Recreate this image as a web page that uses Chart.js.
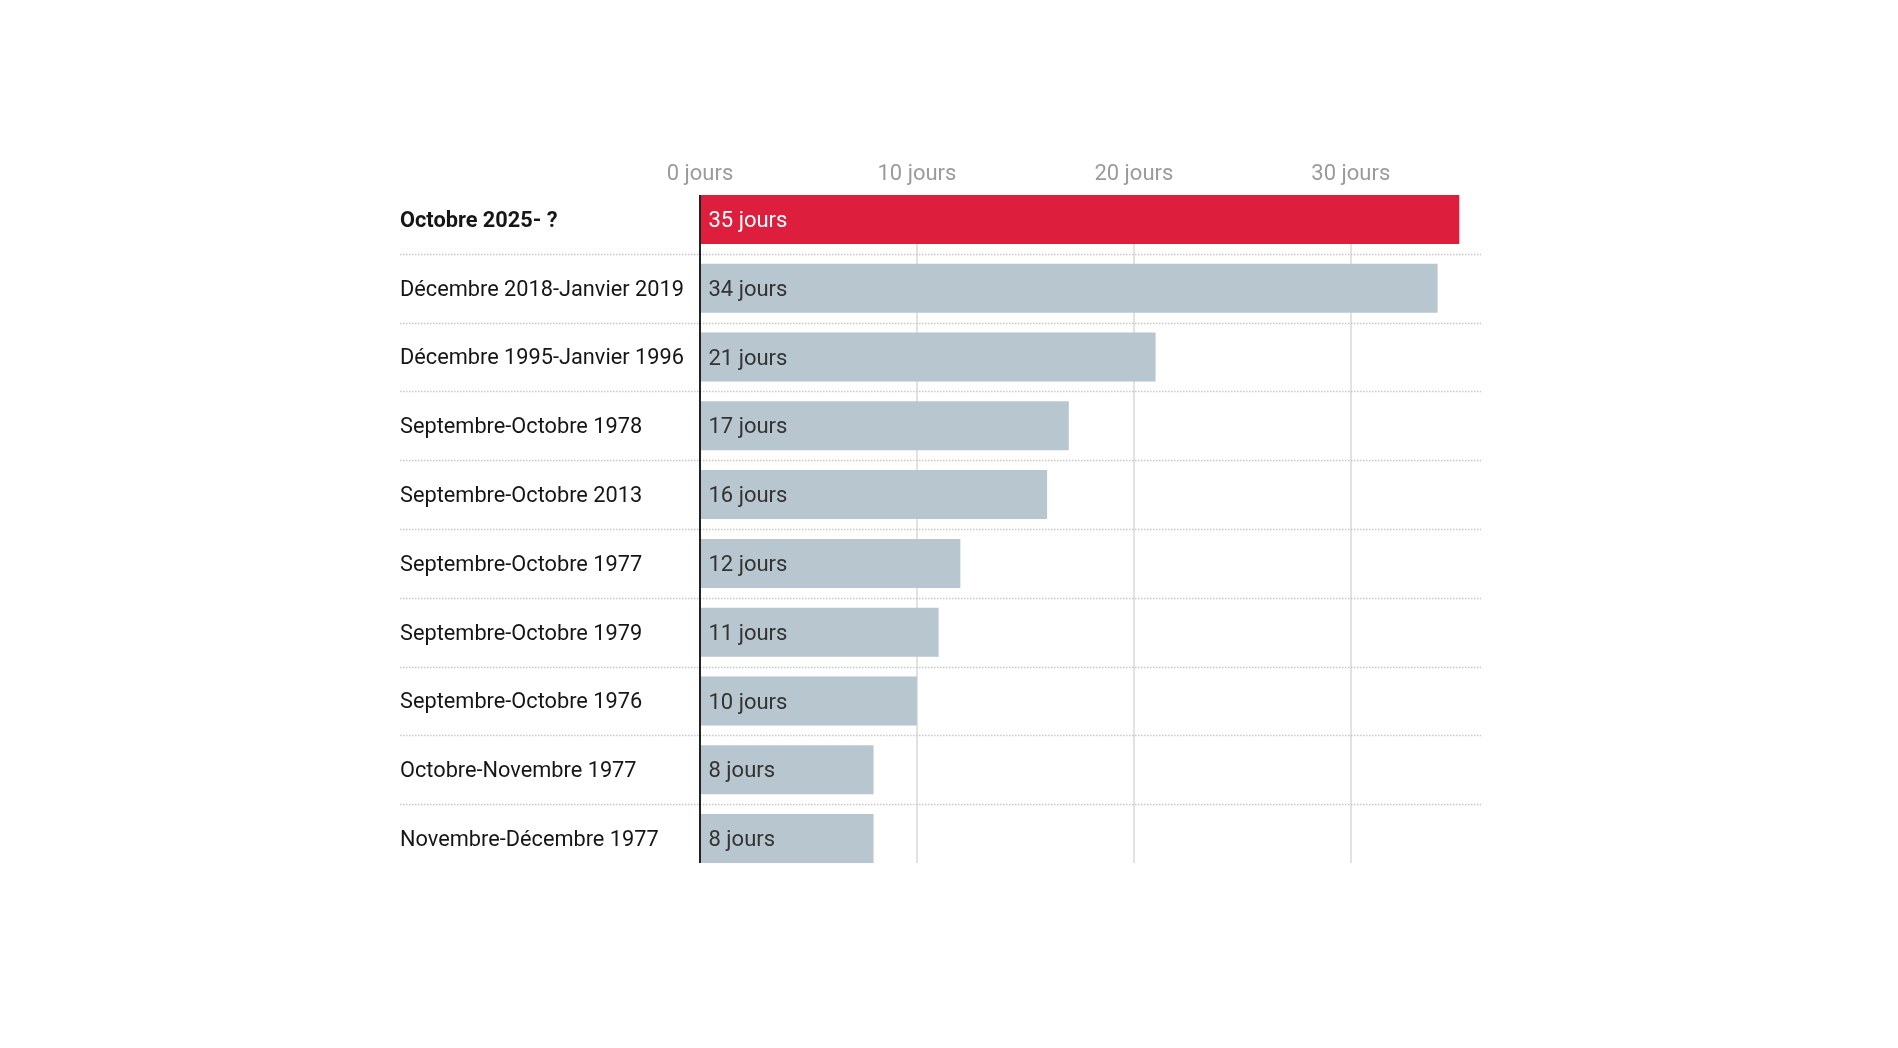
<!DOCTYPE html>
<html lang="fr">
<head>
<meta charset="utf-8">
<title>Shutdowns</title>
<script src="https://cdn.jsdelivr.net/npm/chart.js@4.4.1/dist/chart.umd.min.js"></script>
<style>
  html, body { margin: 0; padding: 0; background: #fff; }
  #wrap { width: 1898px; height: 1048px; }
</style>
</head>
<body>
<div id="wrap"><canvas id="shutdownChart" width="1898" height="1048"></canvas></div>
<script>
var periods = [
    'Octobre 2025- ?',
    'Décembre 2018-Janvier 2019',
    'Décembre 1995-Janvier 1996',
    'Septembre-Octobre 1978',
    'Septembre-Octobre 2013',
    'Septembre-Octobre 1977',
    'Septembre-Octobre 1979',
    'Septembre-Octobre 1976',
    'Octobre-Novembre 1977',
    'Novembre-Décembre 1977'
];
var days = [35, 34, 21, 17, 16, 12, 11, 10, 8, 8];
var xTicks = [0, 10, 20, 30];
var unit = ' jours';

var RED = '#dd1f3d', GREY = '#b8c6cf';

// grid lines, row separators and the zero line, drawn around the bars
var framePlugin = {
    id: 'frame',
    beforeDatasetsDraw: function(chart){
        var ctx = chart.ctx, x = chart.scales.x, y = chart.scales.y;
        var bars = chart.getDatasetMeta(0).data;
        var top = bars[0].y - bars[0].height / 2;
        var bottom = bars[bars.length - 1].y + bars[bars.length - 1].height / 2;
        ctx.save();
        ctx.strokeStyle = '#e2e2e2';
        ctx.lineWidth = 2;
        xTicks.forEach(function(t){
            if (t === 0) return;
            var px = Math.round(x.getPixelForValue(t));
            ctx.beginPath(); ctx.moveTo(px, top); ctx.lineTo(px, bottom); ctx.stroke();
        });
        ctx.strokeStyle = '#c8c8c8';
        ctx.lineWidth = 1.5;
        ctx.setLineDash([1.5, 1.5]);
        for (var i = 0; i < periods.length - 1; i++) {
            var py = Math.round((y.getPixelForValue(i) + y.getPixelForValue(i + 1)) / 2) + 0.5;
            ctx.beginPath(); ctx.moveTo(y.left, py); ctx.lineTo(chart.chartArea.right, py); ctx.stroke();
        }
        ctx.restore();
    },
    afterDatasetsDraw: function(chart){
        var ctx = chart.ctx, x = chart.scales.x;
        var bars = chart.getDatasetMeta(0).data;
        var top = bars[0].y - bars[0].height / 2;
        var bottom = bars[bars.length - 1].y + bars[bars.length - 1].height / 2;
        ctx.save();
        ctx.font = '22px Roboto';
        ctx.textBaseline = 'middle';
        ctx.textAlign = 'left';
        bars.forEach(function(b, i){
            ctx.fillStyle = i === 0 ? '#ffffff' : '#333333';
            ctx.fillText(days[i] + unit, b.base + 8, b.y + 2);
        });
        var zx = x.getPixelForValue(0);
        ctx.strokeStyle = '#222';
        ctx.lineWidth = 2;
        ctx.beginPath(); ctx.moveTo(zx, top); ctx.lineTo(zx, bottom); ctx.stroke();
        ctx.restore();
    }
};

new Chart(document.getElementById('shutdownChart'), {
    type: 'bar',
    data: {
        labels: periods,
        datasets: [{
            data: days,
            backgroundColor: days.map(function(v, i){ return i === 0 ? RED : GREY; }),
            borderWidth: 0,
            categoryPercentage: 1,
            barPercentage: 0.7124
        }]
    },
    options: {
        indexAxis: 'y',
        responsive: false,
        animation: false,
        layout: { padding: { left: 400, right: 417, top: 0, bottom: 175 } },
        plugins: { legend: { display: false }, tooltip: { enabled: false } },
        scales: {
            x: {
                position: 'top',
                min: 0, max: 36,
                afterFit: function(s){ s.height = 185; },
                grid: { display: true, drawOnChartArea: false, drawTicks: false, color: 'transparent' },
                border: { display: false },
                ticks: {
                    stepSize: 10,
                    includeBounds: false,
                    padding: -3,
                    color: '#9b9b9b',
                    font: { family: 'Roboto', size: 22 },
                    callback: function(v){ return xTicks.indexOf(v) >= 0 ? v + unit : ''; }
                }
            },
            y: {
                afterFit: function(s){ s.width = 300; },
                grid: { display: false },
                border: { display: false },
                ticks: {
                    crossAlign: 'far',
                    padding: 0,
                    labelOffset: 2,
                    color: '#161616',
                    font: function(c){ return { family: 'Roboto', size: 21.75, weight: c.index === 0 ? 'bold' : 'normal' }; }
                }
            }
        }
    },
    plugins: [framePlugin]
});
</script>
</body>
</html>
